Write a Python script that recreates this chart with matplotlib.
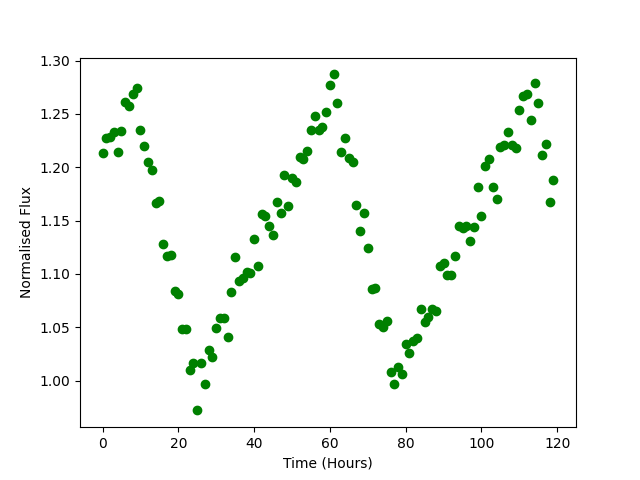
import matplotlib
matplotlib.use("Agg")
import matplotlib.pyplot as plt
import numpy as np

hours = np.arange(120)
flux = [
    1.213, 1.227, 1.228, 1.233, 1.214, 1.234, 1.261, 1.257, 1.269, 1.274,
    1.235, 1.220, 1.205, 1.197, 1.166, 1.168, 1.128, 1.117, 1.118, 1.084,
    1.081, 1.048, 1.048, 1.010, 1.016, 0.972, 1.016, 0.997, 1.029, 1.022,
    1.049, 1.059, 1.059, 1.041, 1.083, 1.116, 1.093, 1.096, 1.102, 1.101,
    1.133, 1.107, 1.156, 1.154, 1.145, 1.136, 1.167, 1.157, 1.193, 1.164,
    1.190, 1.186, 1.210, 1.208, 1.215, 1.235, 1.248, 1.235, 1.238, 1.252,
    1.277, 1.287, 1.260, 1.214, 1.227, 1.209, 1.205, 1.165, 1.140, 1.157,
    1.124, 1.086, 1.087, 1.053, 1.050, 1.056, 1.008, 0.997, 1.013, 1.006,
    1.034, 1.026, 1.037, 1.040, 1.067, 1.055, 1.060, 1.067, 1.065, 1.107,
    1.110, 1.099, 1.099, 1.117, 1.145, 1.143, 1.145, 1.131, 1.144, 1.181,
    1.154, 1.201, 1.208, 1.181, 1.170, 1.219, 1.221, 1.233, 1.221, 1.218,
    1.254, 1.267, 1.269, 1.244, 1.279, 1.260, 1.211, 1.222, 1.167, 1.188,
]

fig, ax = plt.subplots(figsize=(6.4, 4.8), dpi=100)
ax.plot(hours, flux, 'o', color='green')
ax.set_xlabel('Time (Hours)')
ax.set_ylabel('Normalised Flux')
fig.savefig('out.png')
